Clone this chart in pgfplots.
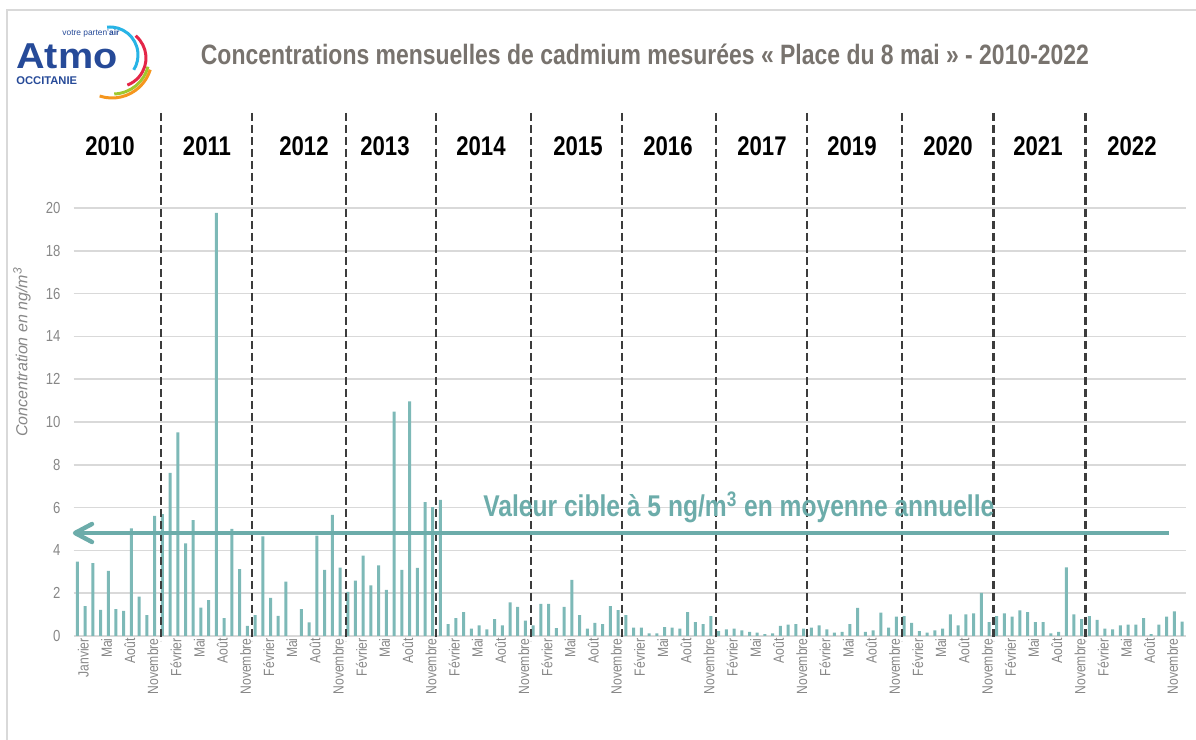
\documentclass[border=0pt]{standalone}
\usepackage{pgfplots}
\pgfplotsset{compat=1.18}
\usepackage{pgfplotstable}
\usepackage{fontspec}
\setmainfont{Liberation Sans}
\newfontfamily\narrow[FakeStretch=0.82]{Liberation Sans}
\newfontfamily\wide[FakeStretch=1.1]{Liberation Sans}
\definecolor{barteal}{RGB}{125,185,183}
\definecolor{arrteal}{RGB}{108,172,170}
\definecolor{titlegray}{RGB}{120,115,110}
\definecolor{labgray}{RGB}{135,135,135}
\definecolor{gridgray}{RGB}{217,217,217}
\definecolor{divgray}{RGB}{60,60,60}
\definecolor{atmoblue}{RGB}{38,74,152}
\definecolor{lcyan}{RGB}{40,180,230}
\definecolor{lred}{RGB}{228,38,72}
\definecolor{lgreen}{RGB}{160,200,45}
\definecolor{lorange}{RGB}{245,150,30}

\pgfplotstableread{
x y
0 3.48
1 1.40
2 3.40
3 1.22
4 3.04
5 1.25
6 1.17
7 5.03
8 1.84
9 0.98
10 5.61
11 5.69
12 7.62
13 9.52
14 4.33
15 5.42
16 1.33
17 1.68
18 19.77
19 0.83
20 5.00
21 3.12
22 0.47
23 0.98
24 4.65
25 1.78
26 0.94
27 2.54
28 nan
29 1.25
30 0.64
31 4.69
32 3.09
33 5.66
34 3.20
35 2.06
36 2.59
37 3.76
38 2.37
39 3.30
40 2.15
41 10.48
42 3.09
43 10.96
44 3.18
45 6.25
46 6.02
47 6.36
48 0.56
49 0.84
50 1.12
51 0.34
52 0.50
53 0.31
54 0.79
55 0.50
56 1.57
57 1.36
58 0.72
59 0.50
60 1.50
61 1.50
62 0.37
63 1.36
64 2.62
65 0.98
66 0.34
67 0.61
68 0.56
69 1.40
70 1.21
71 0.98
72 0.39
73 0.39
74 0.12
75 0.12
76 0.42
77 0.39
78 0.34
79 1.12
80 0.65
81 0.56
82 0.93
83 0.23
84 0.31
85 0.34
86 0.26
87 0.19
88 0.16
89 0.09
90 0.12
91 0.47
92 0.53
93 0.56
94 0.34
95 0.39
96 0.50
97 0.31
98 0.16
99 0.19
100 0.56
101 1.31
102 0.19
103 0.26
104 1.09
105 0.39
106 0.90
107 0.93
108 0.61
109 0.23
110 0.16
111 0.26
112 0.34
113 1.01
114 0.50
115 1.01
116 1.06
117 2.01
118 0.65
119 0.93
120 1.06
121 0.90
122 1.20
123 1.12
124 0.65
125 0.65
126 0.12
127 0.19
128 3.21
129 1.01
130 0.79
131 0.93
132 0.75
133 0.34
134 0.31
135 0.50
136 0.53
137 0.53
138 0.83
139 0.09
140 0.53
141 0.90
142 1.15
143 0.67
}\cadmium

\begin{document}
\begin{tikzpicture}
\useasboundingbox (0,0) rectangle (598pt,370pt);
\begin{axis}[
  at={(36.75pt,52pt)}, anchor=south west,
  scale only axis, width=556.25pt, height=214pt,
  xmin=-0.5, xmax=143.5, ymin=0, ymax=20,
  ytick={0,2,...,20},
  xtick={0,3,...,141},
  xticklabels={Janvier,Mai,Août,Novembre,
    Février,Mai,Août,Novembre,Février,Mai,Août,Novembre,
    Février,Mai,Août,Novembre,Février,Mai,Août,Novembre,
    Février,Mai,Août,Novembre,Février,Mai,Août,Novembre,
    Février,Mai,Août,Novembre,Février,Mai,Août,Novembre,
    Février,Mai,Août,Novembre,Février,Mai,Août,Novembre,
    Février,Mai,Août,Novembre},
  ymajorgrids, grid style={gridgray, line width=0.8pt},
  axis line style={draw=none},
  major tick length=0pt,
  xticklabel style={rotate=90, anchor=east, font=\narrow\fontsize{7.4}{8}\selectfont, text=labgray, inner sep=1pt, yshift=-3pt},
  yticklabel style={font=\narrow\fontsize{8}{9}\selectfont, text=labgray, xshift=-3pt},
  /pgf/number format/assume math mode=true,
  ybar, bar width=1.5pt,
  clip=false,
]
\addplot[fill=barteal, draw=none] table[x=x, y=y] {\cadmium};
\end{axis}

\begin{scope}[x=0.5pt, y=-0.5pt, shift={(0pt,370pt)}]
  % frame
  \draw[gridgray, line width=1pt] (7,740) -- (7,10) -- (1196,10);
  % logo
  \node[anchor=base west, inner sep=0, font=\wide\bfseries\fontsize{18}{20}\selectfont, text=atmoblue] at (16,69) {Atmo};
  \node[anchor=base west, inner sep=0, font=\fontsize{4.2}{5}\selectfont, text=atmoblue] at (62,36) {votre parten'\textbf{air}};
  \node[anchor=base west, inner sep=0, font=\bfseries\fontsize{5.6}{6}\selectfont, text=atmoblue] at (16,85) {OCCITANIE};
  \draw[lcyan, line width=1.5pt] ([shift={(-96:28)}]110,55) arc[start angle=-96, end angle=32, radius=28];
  \draw[lred, line width=1.5pt] ([shift={(-50:29)}]117,58) arc[start angle=-50, end angle=69, radius=29];
  \draw[lgreen, line width=1.5pt] ([shift={(14:36)}]113,58) arc[start angle=14, end angle=88, radius=36];
  \draw[lorange, line width=1.5pt] ([shift={(17:40)}]112,58) arc[start angle=17, end angle=108, radius=40];
  % title
  \node[anchor=base, inner sep=0, font=\narrow\bfseries\fontsize{14}{16}\selectfont, text=titlegray] at (645,65) {Concentrations mensuelles de cadmium mesurées « Place du 8 mai » - 2010-2022};
  % y label
  \node[rotate=90, inner sep=0, font=\itshape\fontsize{8}{9}\selectfont, text=labgray] at (22,352) {Concentration en ng/m\textsuperscript{3}};
  % year dividers
  \foreach \xx in {160.7,251.6,345.6,436.3,530.8,621.7,716,807,902,993.5,1085.5}
    \draw[divgray, line width=1.1pt, dash pattern=on 4pt off 2pt] (\xx,113) -- (\xx,641);
  % year labels
  \foreach \xx/\yr in {110/2010,207/2011,304/2012,385/2013,481/2014,578/2015,668/2016,762/2017,852/2019,948/2020,1038/2021,1132/2022}
    \node[anchor=base, inner sep=0, font=\narrow\bfseries\fontsize{13.5}{15}\selectfont] at (\xx,156) {\yr};
  % target arrow
  \draw[arrteal, line width=2pt] (76,533) -- (1169,533);
  \draw[arrteal, line width=2.2pt, line cap=round, line join=round] (92,524) -- (75,533) -- (92,542);
  \node[anchor=base west, inner sep=0, font=\narrow\bfseries\fontsize{15}{17}\selectfont, text=arrteal] at (483,517) {Valeur cible à 5 ng/m\textsuperscript{3} en moyenne annuelle};
\end{scope}
\end{tikzpicture}
\end{document}
